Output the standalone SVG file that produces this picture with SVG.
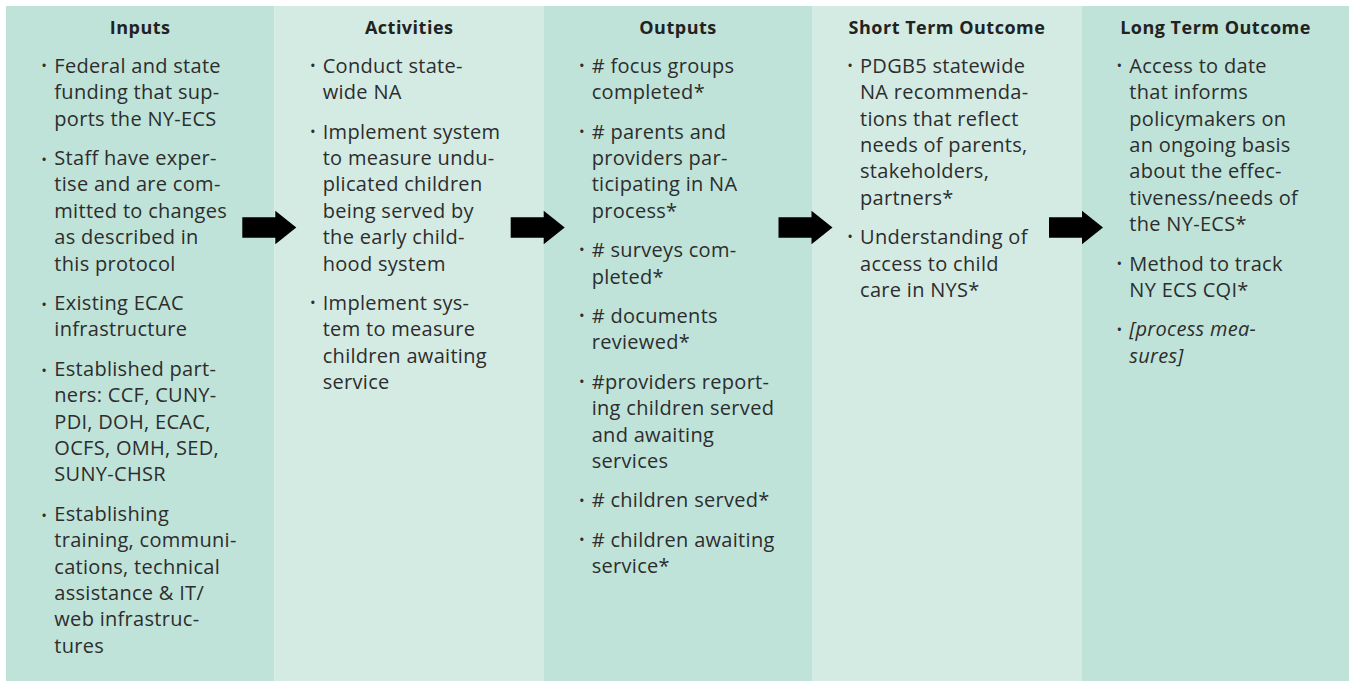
<svg xmlns="http://www.w3.org/2000/svg" xmlns:xlink="http://www.w3.org/1999/xlink" width="1349" height="681" viewBox="0 0 1349 681">
  <style>
    .dark { fill: #bfe3d9; }
    .light { fill: #d4ebe4; }
    .h { font-family: "Open Sans", "Liberation Sans", sans-serif; font-weight: 700; font-size: 18px; fill: #222222; text-anchor: middle; letter-spacing: 0.5px; }
    .t { font-family: "Open Sans", "Liberation Sans", sans-serif; font-size: 20px; fill: #2d2d2d; letter-spacing: 0.3px; }
    .b { font-family: "Open Sans", "Liberation Sans", sans-serif; font-size: 15px; fill: #2d2d2d; text-anchor: middle; }
    .it { font-style: italic; }
    .arrow { fill: #000000; }
  </style>
  <defs>
    <path id="arr" d="M0,-10.3 L33,-10.3 L33,-16.7 L54,0 L33,16.7 L33,10.3 L0,10.3 Z"/>
  </defs>
  <rect x="0" y="0" width="1349" height="681" fill="#ffffff"/>

  <g id="inputs">
    <rect class="dark" x="6" y="6" width="268.5" height="675"/>
    <text class="h" x="140.2" y="33.5">Inputs</text>
    <text class="b" x="44" y="71">•</text>
    <text class="b" x="44" y="164.9">•</text>
    <text class="b" x="44" y="309.9">•</text>
    <text class="b" x="44" y="375.7">•</text>
    <text class="b" x="44" y="520.7">•</text>
    <text class="t">
      <tspan x="54.3" y="72.7">Federal and state</tspan>
      <tspan x="54.3" y="99.1">funding that sup-</tspan>
      <tspan x="54.3" y="125.5">ports the NY-ECS</tspan>
      <tspan x="54.3" y="164.9">Staff have exper-</tspan>
      <tspan x="54.3" y="191.3">tise and are com-</tspan>
      <tspan x="54.3" y="217.7">mitted to changes</tspan>
      <tspan x="54.3" y="244.1">as described in</tspan>
      <tspan x="54.3" y="270.5">this protocol</tspan>
      <tspan x="54.3" y="309.9">Existing ECAC</tspan>
      <tspan x="54.3" y="336.3">infrastructure</tspan>
      <tspan x="54.3" y="375.7">Established part-</tspan>
      <tspan x="54.3" y="402.1">ners: CCF, CUNY-</tspan>
      <tspan x="54.3" y="428.5">PDI, DOH, ECAC,</tspan>
      <tspan x="54.3" y="454.9">OCFS, OMH, SED,</tspan>
      <tspan x="54.3" y="481.3">SUNY-CHSR</tspan>
      <tspan x="54.3" y="520.7">Establishing</tspan>
      <tspan x="54.3" y="547.1">training, communi-</tspan>
      <tspan x="54.3" y="573.5">cations, technical</tspan>
      <tspan x="54.3" y="599.9">assistance &amp; IT/</tspan>
      <tspan x="54.3" y="626.3">web infrastruc-</tspan>
      <tspan x="54.3" y="652.7">tures</tspan>
    </text>
  </g>

  <g id="activities">
    <rect class="light" x="274.5" y="6" width="269.5" height="675"/>
    <text class="h" x="409.2" y="33.5">Activities</text>
    <text class="b" x="312.7" y="71">•</text>
    <text class="b" x="312.7" y="136.8">•</text>
    <text class="b" x="312.7" y="308.2">•</text>
    <text class="t">
      <tspan x="322.7" y="72.7">Conduct state-</tspan>
      <tspan x="322.7" y="99.1">wide NA</tspan>
      <tspan x="322.7" y="138.5">Implement system</tspan>
      <tspan x="322.7" y="164.9">to measure undu-</tspan>
      <tspan x="322.7" y="191.3">plicated children</tspan>
      <tspan x="322.7" y="217.7">being served by</tspan>
      <tspan x="322.7" y="244.1">the early child-</tspan>
      <tspan x="322.7" y="270.5">hood system</tspan>
      <tspan x="322.7" y="309.9">Implement sys-</tspan>
      <tspan x="322.7" y="336.3">tem to measure</tspan>
      <tspan x="322.7" y="362.7">children awaiting</tspan>
      <tspan x="322.7" y="389.1">service</tspan>
    </text>
  </g>

  <g id="outputs">
    <rect class="dark" x="544" y="6" width="268" height="675"/>
    <text class="h" x="678" y="33.5">Outputs</text>
    <text class="b" x="581.7" y="71">•</text>
    <text class="b" x="581.7" y="136.8">•</text>
    <text class="b" x="581.7" y="255.4">•</text>
    <text class="b" x="581.7" y="321.2">•</text>
    <text class="b" x="581.7" y="387">•</text>
    <text class="b" x="581.7" y="505.6">•</text>
    <text class="b" x="581.7" y="545">•</text>
    <text class="t">
      <tspan x="591.7" y="72.7"># focus groups</tspan>
      <tspan x="591.7" y="99.1">completed*</tspan>
      <tspan x="591.7" y="138.5"># parents and</tspan>
      <tspan x="591.7" y="164.9">providers par-</tspan>
      <tspan x="591.7" y="191.3">ticipating in NA</tspan>
      <tspan x="591.7" y="217.7">process*</tspan>
      <tspan x="591.7" y="257.1"># surveys com-</tspan>
      <tspan x="591.7" y="283.5">pleted*</tspan>
      <tspan x="591.7" y="322.9"># documents</tspan>
      <tspan x="591.7" y="349.3">reviewed*</tspan>
      <tspan x="591.7" y="388.7">#providers report-</tspan>
      <tspan x="591.7" y="415.1">ing children served</tspan>
      <tspan x="591.7" y="441.5">and awaiting</tspan>
      <tspan x="591.7" y="467.9">services</tspan>
      <tspan x="591.7" y="507.3"># children served*</tspan>
      <tspan x="591.7" y="546.7"># children awaiting</tspan>
      <tspan x="591.7" y="573.1">service*</tspan>
    </text>
  </g>

  <g id="short-term-outcome">
    <rect class="light" x="812" y="6" width="270" height="675"/>
    <text class="h" x="947" y="33.5">Short Term Outcome</text>
    <text class="b" x="850" y="71">•</text>
    <text class="b" x="850" y="242.4">•</text>
    <text class="t">
      <tspan x="860" y="72.7">PDGB5 statewide</tspan>
      <tspan x="860" y="99.1">NA recommenda-</tspan>
      <tspan x="860" y="125.5">tions that reflect</tspan>
      <tspan x="860" y="151.9">needs of parents,</tspan>
      <tspan x="860" y="178.3">stakeholders,</tspan>
      <tspan x="860" y="204.7">partners*</tspan>
      <tspan x="860" y="244.1">Understanding of</tspan>
      <tspan x="860" y="270.5">access to child</tspan>
      <tspan x="860" y="296.9">care in NYS*</tspan>
    </text>
  </g>

  <g id="long-term-outcome">
    <rect class="dark" x="1082" y="6" width="267" height="675"/>
    <text class="h" x="1215.5" y="33.5">Long Term Outcome</text>
    <text class="b" x="1119.3" y="71">•</text>
    <text class="b" x="1119.3" y="268.8">•</text>
    <text class="b" x="1119.3" y="334.6">•</text>
    <text class="t">
      <tspan x="1129.3" y="72.7">Access to date</tspan>
      <tspan x="1129.3" y="99.1">that informs</tspan>
      <tspan x="1129.3" y="125.5">policymakers on</tspan>
      <tspan x="1129.3" y="151.9">an ongoing basis</tspan>
      <tspan x="1129.3" y="178.3">about the effec-</tspan>
      <tspan x="1129.3" y="204.7">tiveness/needs of</tspan>
      <tspan x="1129.3" y="231.1">the NY-ECS*</tspan>
      <tspan x="1129.3" y="270.5">Method to track</tspan>
      <tspan x="1129.3" y="296.9">NY ECS CQI*</tspan>
      <tspan class="it" x="1129.3" y="336.3">[process mea-</tspan>
      <tspan class="it" x="1129.3" y="362.7">sures]</tspan>
    </text>
  </g>

  <g id="connectors">
    <use class="arrow" xlink:href="#arr" href="#arr" x="242.3" y="227.5"/>
    <use class="arrow" xlink:href="#arr" href="#arr" x="510.7" y="227.5"/>
    <use class="arrow" xlink:href="#arr" href="#arr" x="778.5" y="227.5"/>
    <use class="arrow" xlink:href="#arr" href="#arr" x="1049" y="227.5"/>
  </g>
</svg>
